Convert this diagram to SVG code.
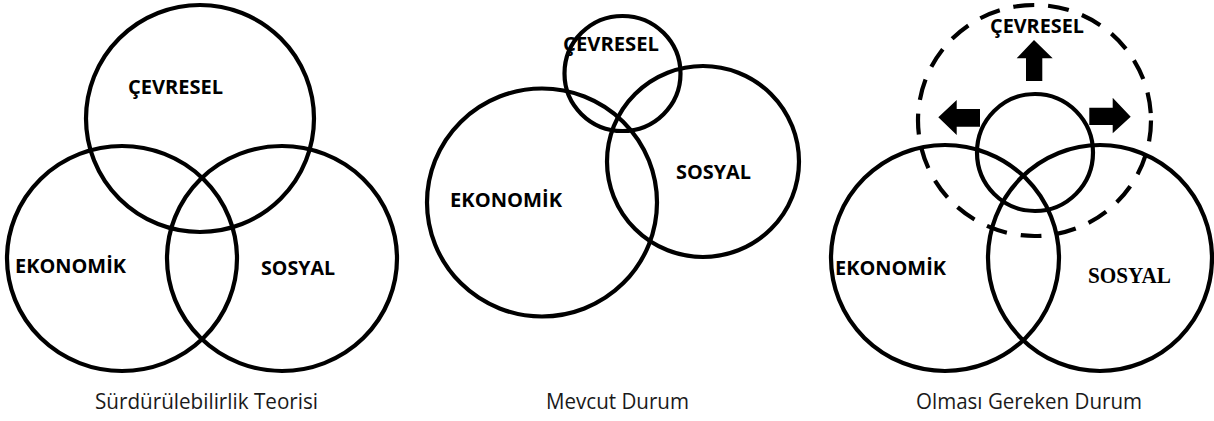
<svg xmlns="http://www.w3.org/2000/svg" width="1214" height="421" viewBox="0 0 1214 421">
<style>
.c{fill:none;stroke:#000;stroke-width:4.2}
.d{fill:none;stroke:#000;stroke-width:4.2;stroke-dasharray:21 14}
.l{font-family:"Open Sans","Noto Sans",sans-serif;font-weight:bold;font-size:19.5px;fill:#000}
.s{font-family:"Liberation Serif",serif;font-weight:bold;font-size:23px;fill:#000}
.cap{font-family:"Open Sans","Noto Sans",sans-serif;font-size:21px;fill:#1a1a1a}
.a{fill:#000}
</style>
<rect width="1214" height="421" fill="#fff"/>
<g id="panel1">
  <g id="p1-cevresel"><ellipse class="c" cx="200" cy="118.5" rx="114" ry="113.5"/><text class="l" x="128" y="94" textLength="95" lengthAdjust="spacingAndGlyphs">ÇEVRESEL</text></g>
  <g id="p1-ekonomik"><ellipse class="c" cx="122" cy="258.5" rx="115" ry="112.5"/><text class="l" x="15" y="273" textLength="111" lengthAdjust="spacingAndGlyphs">EKONOMİK</text></g>
  <g id="p1-sosyal"><ellipse class="c" cx="282" cy="258.5" rx="115" ry="112.5"/><text class="l" x="261" y="275" textLength="74" lengthAdjust="spacingAndGlyphs">SOSYAL</text></g>
  <text class="cap" x="95" y="409" textLength="223" lengthAdjust="spacingAndGlyphs">Sürdürülebilirlik Teorisi</text>
</g>
<g id="panel2">
  <g id="p2-cevresel"><text class="l" x="563" y="51" textLength="96" lengthAdjust="spacingAndGlyphs">ÇEVRESEL</text><ellipse class="c" cx="622.5" cy="73.5" rx="58" ry="57.5"/></g>
  <g id="p2-ekonomik"><ellipse class="c" cx="542" cy="202.5" rx="115" ry="114"/><text class="l" x="450" y="207" textLength="112" lengthAdjust="spacingAndGlyphs">EKONOMİK</text></g>
  <g id="p2-sosyal"><ellipse class="c" cx="703" cy="161.5" rx="96" ry="95.5"/><text class="l" x="676" y="179" textLength="75" lengthAdjust="spacingAndGlyphs">SOSYAL</text></g>
  <text class="cap" x="546" y="409" textLength="143" lengthAdjust="spacingAndGlyphs">Mevcut Durum</text>
</g>
<g id="panel3">
  <g id="p3-ekonomik"><ellipse class="c" cx="945" cy="258" rx="114" ry="113"/><text class="l" x="835" y="275" textLength="111" lengthAdjust="spacingAndGlyphs">EKONOMİK</text></g>
  <g id="p3-sosyal"><ellipse class="c" cx="1100" cy="258" rx="112" ry="113"/><text class="s" x="1088" y="283" textLength="83" lengthAdjust="spacingAndGlyphs">SOSYAL</text></g>
  <g id="p3-cevresel"><ellipse class="c" cx="1035" cy="152.5" rx="58" ry="58.5"/><ellipse class="d" cx="1034.5" cy="120.5" rx="116.5" ry="115.5"/><text class="l" x="990" y="33" textLength="94" lengthAdjust="spacingAndGlyphs">ÇEVRESEL</text></g>
  <g id="p3-arrows">
    <polygon class="a" points="1034,40 1052.7,58.3 1042.3,58.3 1042.3,81 1026,81 1026,58.3 1016.7,58.3"/>
    <polygon class="a" points="938.3,117.3 956.7,100 956.7,109 980,109 980,126.7 956.7,126.7 956.7,135"/>
    <polygon class="a" points="1130.7,116.7 1112.7,97.7 1112.7,107.7 1089.3,107.7 1089.3,125 1112.7,125 1112.7,133.3"/>
  </g>
  <text class="cap" x="916" y="409" textLength="226" lengthAdjust="spacingAndGlyphs">Olması Gereken Durum</text>
</g>
</svg>
